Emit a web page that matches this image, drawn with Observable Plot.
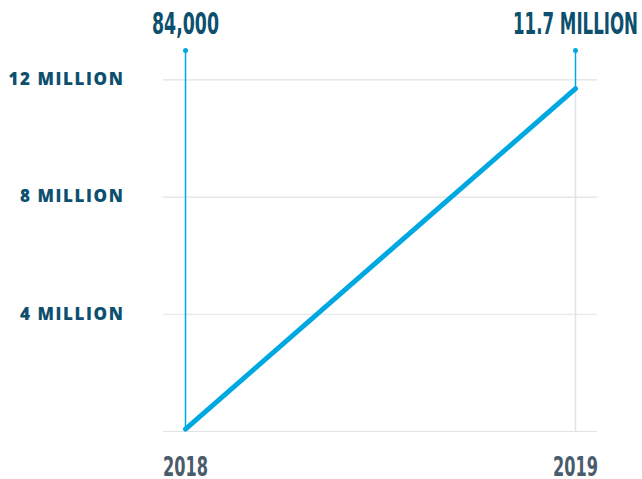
<!DOCTYPE html>
<html>
<head>
<meta charset="utf-8">
<script src="https://cdn.jsdelivr.net/npm/d3@7"></script>
<script src="https://cdn.jsdelivr.net/npm/@observablehq/plot@0.6"></script>
<style>
  html, body { margin: 0; padding: 0; background: #fff; }
  #chart svg { display: block; }
</style>
</head>
<body>
<div id="chart"></div>
<script>
const years = [2018, 2019];
const values = [84000, 11700000];
const valueLabels = ["84,000", "11.7 MILLION"];
const yTicks = [0, 4000000, 8000000, 12000000];
const yTickLabels = ["", "4 MILLION", "8 MILLION", "12 MILLION"];
const yMax = 13000000;

const data = years.map((year, i) => ({year, value: values[i], label: valueLabels[i]}));

const blue = "#00a8e2";
const navy = "#0d4f6e";
const grey = "#dfe3e6";

const plot = Plot.plot({
  width: 642,
  height: 479,
  marginTop: 50,
  marginBottom: 48,
  marginLeft: 185,
  marginRight: 67,
  style: {background: "#fff", overflow: "visible"},
  x: {domain: [2018, 2019], axis: null},
  y: {domain: [0, yMax], axis: null},
  marks: [
    Plot.ruleY(yTicks, {stroke: grey, strokeWidth: 1.2, insetLeft: -22, insetRight: -22}),
    Plot.ruleX(data, {x: "year", y1: 0, y2: "value", stroke: grey, strokeWidth: 1.5}),
    Plot.ruleX(data, {x: "year", y1: "value", y2: yMax, stroke: blue, strokeWidth: 1.5}),
    Plot.dot(data, {x: "year", y: yMax, r: 2.5, fill: blue, stroke: null}),
    Plot.line(data, {x: "year", y: "value", stroke: blue, strokeWidth: 5, strokeLinecap: "round"}),
    Plot.text(yTicks.slice(1), {
      x: 2018, y: d => d, text: (d, i) => yTickLabels[i + 1],
      textAnchor: "end", dx: -61, fill: navy,
      fontFamily: "'Open Sans', sans-serif", fontWeight: 800, fontSize: 17,
      className: "ylab"
    }),
    Plot.text(data, {
      x: "year", y: yMax, text: "label", dy: -26, fill: navy,
      fontFamily: "'Liberation Sans Narrow', 'DejaVu Sans Condensed', sans-serif",
      fontWeight: 700, fontSize: 31, className: "toplab"
    }),
    Plot.text(data, {
      x: "year", y: 0, text: d => String(d.year), dy: 36, fill: "#4a5b6b",
      fontFamily: "'Liberation Sans Narrow', 'DejaVu Sans Condensed', sans-serif",
      fontWeight: 700, fontSize: 26, className: "xlab"
    })
  ]
});

d3.select(plot).selectAll(".ylab text").style("letter-spacing", "1.6px");
const topLens = [67, 125];
d3.select(plot).selectAll(".toplab text").each(function(d, i) {
  d3.select(this).attr("textLength", topLens[i]).attr("lengthAdjust", "spacingAndGlyphs");
});
d3.select(plot).selectAll(".xlab text").attr("textLength", 45).attr("lengthAdjust", "spacingAndGlyphs");

document.getElementById("chart").appendChild(plot);
</script>
</body>
</html>
